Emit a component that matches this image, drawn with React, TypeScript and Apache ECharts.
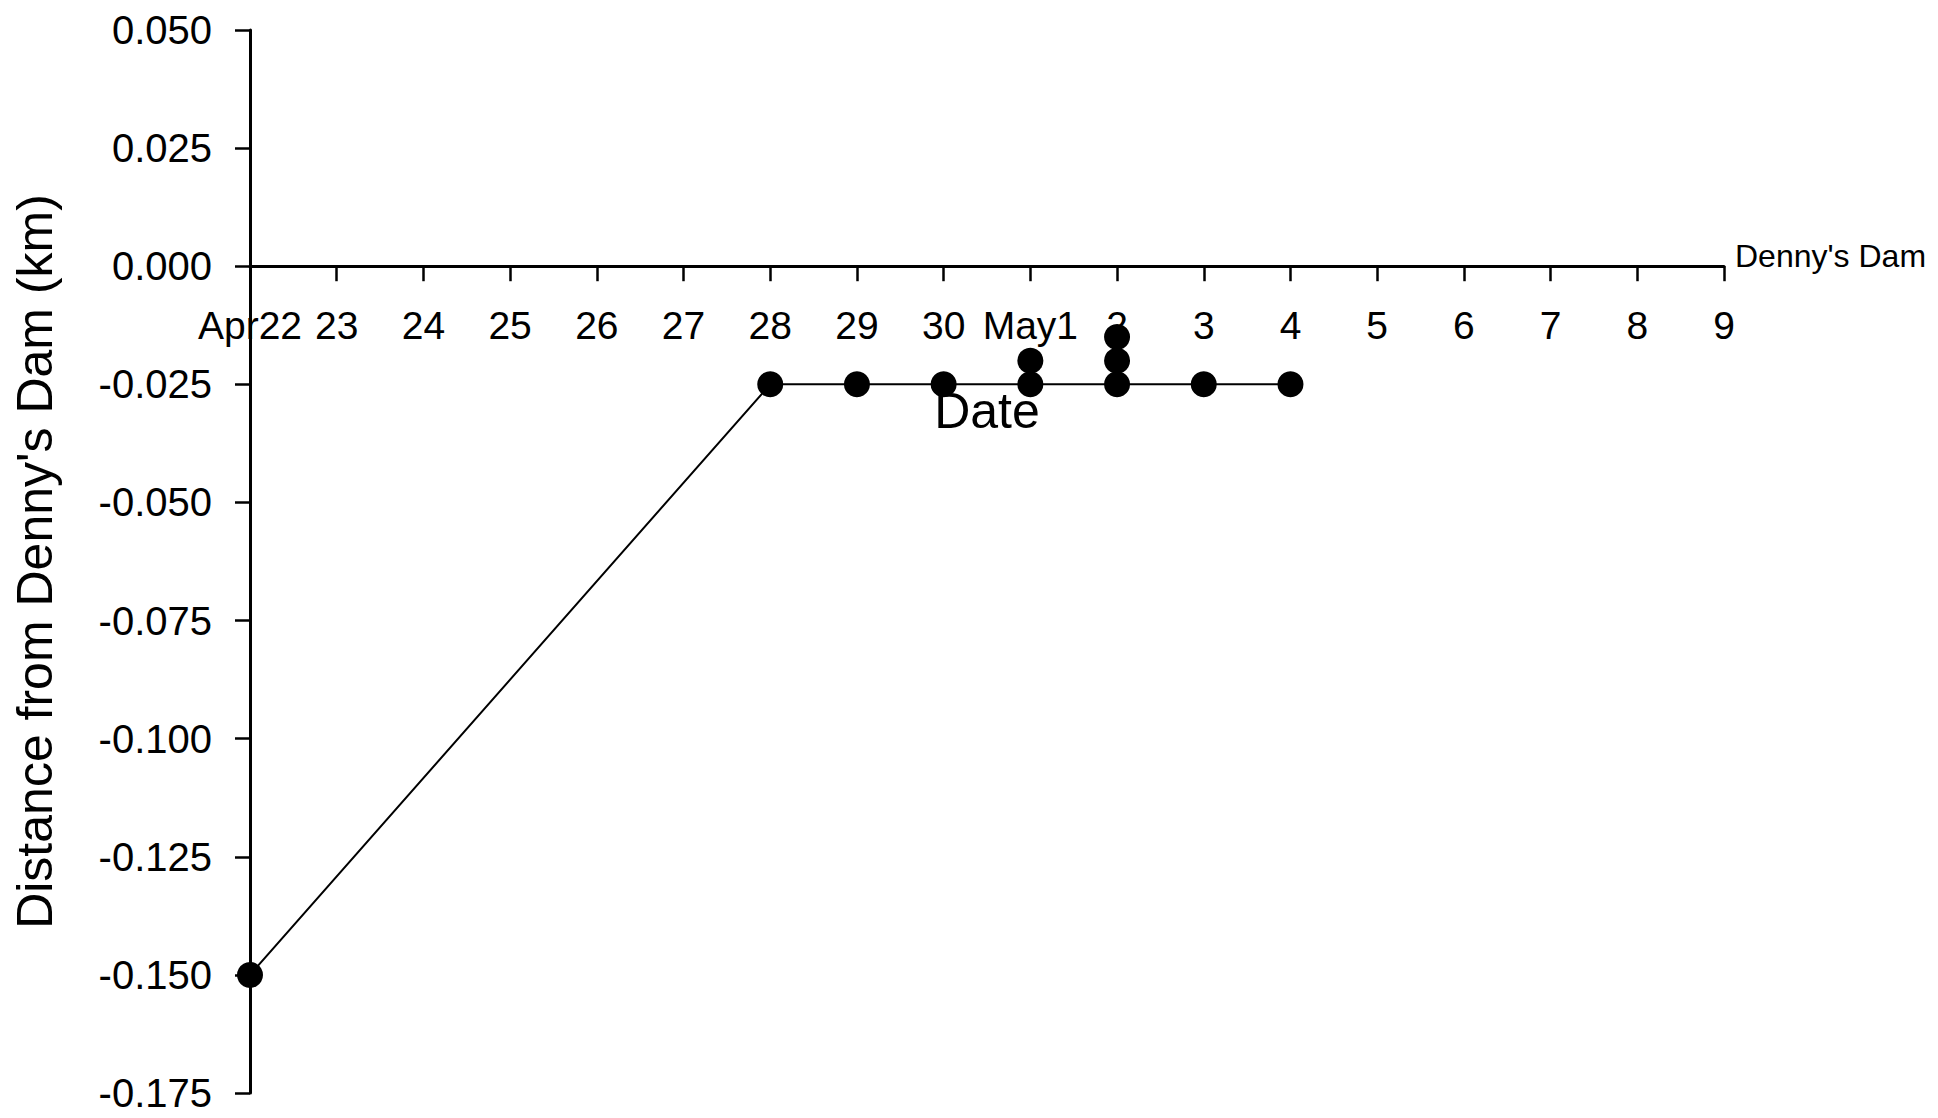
import React, { useEffect, useRef } from "react";
import * as echarts from "echarts";

// X-axis tick labels (day index 0 = Apr 22 ... 17 = May 9)
const dateLabels = [
  "Apr22", "23", "24", "25", "26", "27", "28", "29", "30",
  "May1", "2", "3", "4", "5", "6", "7", "8", "9",
];

// Main track (connected by a line): day index and distance (km)
const trackDay = [0, 6, 7, 8, 9, 10, 11, 12];
const trackDist = [-0.15, -0.025, -0.025, -0.025, -0.025, -0.025, -0.025, -0.025];

// Additional fixes on the same days (not connected)
const extraDay = [9, 10, 10];
const extraDist = [-0.02, -0.02, -0.015];

const yMin = -0.175;
const yMax = 0.05;
const yStep = 0.025;

const FONT = "Arial, 'Liberation Sans', sans-serif";

const GRID_TOP = 30;
const GRID_BOTTOM = 25;
const H = 1118;

export default function App() {
  const ref = useRef<HTMLDivElement>(null);

  useEffect(() => {
    if (!ref.current) return;
    const chart = echarts.init(ref.current, null, { renderer: "svg" });
    const trackData = trackDay.map((d, i) => [d, trackDist[i]]);
    const extraData = extraDay.map((d, i) => [d, extraDist[i]]);

    // place the x axis on the zero line via an offset from the grid bottom
    const gridH = H - GRID_TOP - GRID_BOTTOM;
    const zeroFromBottom = ((0 - yMin) / (yMax - yMin)) * gridH;

    chart.setOption({
      animation: false,
      backgroundColor: "#ffffff",
      grid: {
        left: 250,
        right: 214,
        top: GRID_TOP,
        bottom: GRID_BOTTOM,
        containLabel: false,
        outerBoundsMode: "none",
      },
      xAxis: {
        type: "value",
        min: 0,
        max: dateLabels.length - 1,
        interval: 1,
        position: "bottom",
        offset: -zeroFromBottom,
        name: "Date",
        nameLocation: "middle",
        nameGap: 120,
        nameTextStyle: { fontSize: 50, fontFamily: FONT, color: "#000" },
        axisLine: { onZero: false, lineStyle: { color: "#000", width: 3 } },
        axisTick: { show: true, inside: false, length: 15, lineStyle: { color: "#000", width: 2.5 } },
        axisLabel: {
          margin: 40,
          fontSize: 39,
          fontFamily: FONT,
          color: "#000",
          formatter: (v: number) => dateLabels[Math.round(v)] ?? "",
        },
        splitLine: { show: false },
      },
      yAxis: {
        type: "value",
        min: yMin,
        max: yMax,
        interval: yStep,
        name: "Distance from Denny's Dam (km)",
        nameLocation: "middle",
        nameGap: 190,
        nameTextStyle: { fontSize: 50, fontFamily: FONT, color: "#000" },
        axisLine: { show: true, onZero: false, lineStyle: { color: "#000", width: 3 } },
        axisTick: { show: true, inside: false, length: 15, lineStyle: { color: "#000", width: 2.5 } },
        axisLabel: {
          margin: 38,
          fontSize: 40,
          fontFamily: FONT,
          color: "#000",
          formatter: (v: number) => v.toFixed(3),
        },
        splitLine: { show: false },
      },
      graphic: [
        {
          type: "text",
          x: 1735,
          y: 256,
          style: {
            text: "Denny's Dam",
            fontSize: 32,
            fontFamily: FONT,
            fill: "#000",
            align: "left",
            verticalAlign: "middle",
          },
        },
      ],
      series: [
        {
          type: "line",
          data: trackData,
          clip: false,
          symbol: "circle",
          symbolSize: 26,
          itemStyle: { color: "#000", opacity: 1 },
          lineStyle: { color: "#000", width: 2 },
          z: 3,
        },
        {
          type: "scatter",
          data: extraData,
          clip: false,
          symbol: "circle",
          symbolSize: 26,
          itemStyle: { color: "#000", opacity: 1 },
          z: 3,
        },
      ],
    });

    return () => chart.dispose();
  }, []);

  return (
    <div
      ref={ref}
      style={{
        position: "fixed",
        left: 0,
        top: 0,
        width: 1938,
        height: 1118,
        background: "#fff",
      }}
    />
  );
}
